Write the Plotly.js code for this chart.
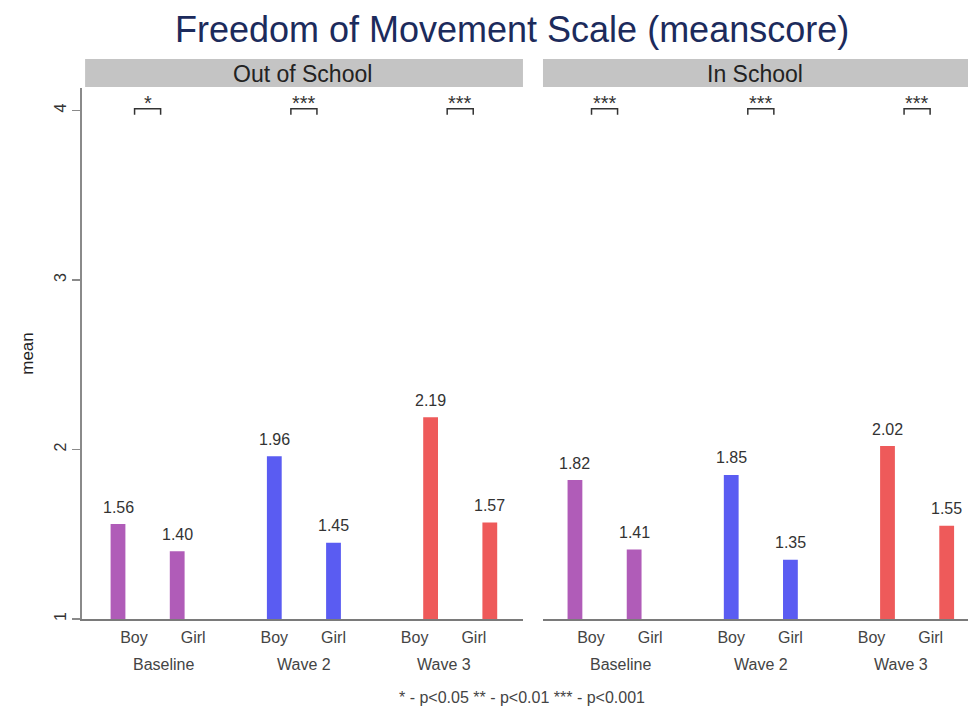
<!DOCTYPE html>
<html>
<head>
<meta charset="utf-8">
<script src="https://cdn.plot.ly/plotly-3.0.1.min.js"></script>
<style>
  html, body { margin: 0; padding: 0; background: #ffffff; }
  #chart { width: 968px; height: 710px; }
</style>
</head>
<body>
<div id="chart"></div>
<script>
// chart data
const panels = ["Out of School", "In School"];
const waves = ["Baseline", "Wave 2", "Wave 3"];
const sexes = ["Boy", "Girl"];
const outBoy = [1.56, 1.96, 2.19];
const outGirl = [1.40, 1.45, 1.57];
const inBoy = [1.82, 1.85, 2.02];
const inGirl = [1.41, 1.35, 1.55];
const sigOut = ["*", "***", "***"];
const sigIn = ["***", "***", "***"];
const waveColors = ["#b05cb8", "#5a5cf2", "#ee5a5a"];

// spacing of bars and of the labels underneath (labels sit a bit closer together)
const barStep = 2.64;
const labelStep = 2.37;
const midGroup = barStep + 0.5;

let boys = [outBoy, inBoy];
let girls = [outGirl, inGirl];
let sigs = [sigOut, sigIn];
let xaxes = ["x", "x2"];

let traces = [];
let annotations = [];
let shapes = [];

panels.forEach(function(panel, p) {
    let xs = [], ys = [], cols = [];
    let bx = [], by = [];
    waves.forEach(function(w, i) {
        let xb = i * barStep;
        xs.push(xb, xb + 1);
        ys.push(boys[p][i], girls[p][i]);
        cols.push(waveColors[i], waveColors[i]);

        // significance bracket over the pair
        let c = xb + 0.5;
        bx.push(c - 0.22, c - 0.22, c + 0.22, c + 0.22, null);
        by.push(3.975, 4.01, 4.01, 3.975, null);
        annotations.push({
            xref: xaxes[p], yref: "y", x: c, y: 4.01,
            text: sigs[p][i], showarrow: false, yanchor: "bottom", yshift: -7,
            font: {size: 20, color: "#333333"}
        });

        // wave label under the Boy/Girl labels
        annotations.push({
            xref: xaxes[p], yref: "paper", x: midGroup + (i - 1) * labelStep, y: -0.0866,
            text: w, showarrow: false, yanchor: "middle",
            font: {size: 16, color: "#444444"}
        });
    });

    traces.push({
        type: "bar",
        x: xs,
        y: ys,
        xaxis: xaxes[p],
        yaxis: "y",
        width: 0.25,
        marker: {color: cols},
        hoverinfo: "x+y",
        showlegend: false
    });

    traces.push({
        type: "scatter",
        mode: "lines",
        x: bx,
        y: by,
        xaxis: xaxes[p],
        yaxis: "y",
        line: {color: "#333333", width: 1.5},
        hoverinfo: "skip",
        cliponaxis: false,
        showlegend: false
    });

    // value labels above the bars
    xs.forEach(function(x, k) {
        annotations.push({
            xref: xaxes[p], yref: "y", x: x, y: ys[k],
            text: ys[k].toFixed(2), showarrow: false, yanchor: "middle", yshift: 17,
            font: {size: 16, color: "#333333"}
        });
    });

    // grey strip with the panel name
    shapes.push({
        type: "rect", xref: xaxes[p] + " domain", yref: "paper",
        x0: p === 0 ? 0.007 : 0, x1: 1, y0: 1.002, y1: 1.0546,
        fillcolor: "#c4c4c4", line: {width: 0}
    });
    annotations.push({
        xref: xaxes[p] + " domain", yref: "paper", x: 0.5, y: 1.0264,
        text: panel, showarrow: false, yanchor: "middle",
        font: {size: 23, color: "#222222"}
    });
});

// footnote
annotations.push({
    xref: "paper", yref: "paper", x: 0.4966, y: -0.147,
    text: "* - p&lt;0.05 ** - p&lt;0.01 *** - p&lt;0.001", showarrow: false, yanchor: "middle",
    font: {size: 16, color: "#444444"}
});

// Boy / Girl tick labels
let tickPos = [], tickText = [];
waves.forEach(function(w, i) {
    let c = midGroup + (i - 1) * labelStep;
    tickPos.push(c - 0.5, c + 0.5);
    tickText.push(sexes[0], sexes[1]);
});

function xAxis(domain, range) {
    return {
        domain: domain,
        range: range,
        anchor: "y",
        showgrid: false,
        zeroline: false,
        showline: true,
        linecolor: "#7a7a7a",
        linewidth: 2,
        tickmode: "array",
        tickvals: tickPos,
        ticktext: tickText,
        ticks: "outside",
        ticklen: 3,
        tickcolor: "rgba(0,0,0,0)",
        tickfont: {size: 16, color: "#444444"},
        fixedrange: true
    };
}

let layout = {
    width: 968,
    height: 710,
    margin: {l: 82, r: 0, t: 88, b: 91},
    paper_bgcolor: "#ffffff",
    plot_bgcolor: "#ffffff",
    font: {family: "Liberation Sans, Arial, sans-serif", color: "#333333"},
    title: {
        text: "Freedom of Movement Scale (meanscore)",
        x: 0.529, xanchor: "center", xref: "container",
        y: 0.958, yanchor: "middle", yref: "container",
        font: {size: 36, color: "#1c2b5c"}
    },
    xaxis: xAxis([0, 0.4977], [-0.608, 6.84]),
    xaxis2: xAxis([0.5203, 1], [-0.54, 6.64]),
    yaxis: {
        range: [1, 4.133],
        anchor: "x",
        tickmode: "array",
        tickvals: [1, 2, 3, 4],
        ticktext: ["1", "2", "3", "4"],
        tickangle: -90,
        ticks: "outside",
        ticklen: 8,
        tickwidth: 1.5,
        tickcolor: "#8a8a8a",
        tickfont: {size: 16, color: "#333333"},
        showline: true,
        linecolor: "#8a8a8a",
        linewidth: 2,
        showgrid: false,
        zeroline: false,
        title: {text: "mean", standoff: 14, font: {size: 17, color: "#222222"}},
        fixedrange: true
    },
    shapes: shapes,
    annotations: annotations,
    showlegend: false
};

Plotly.newPlot("chart", traces, layout, {displayModeBar: false, staticPlot: true});
</script>
</body>
</html>
